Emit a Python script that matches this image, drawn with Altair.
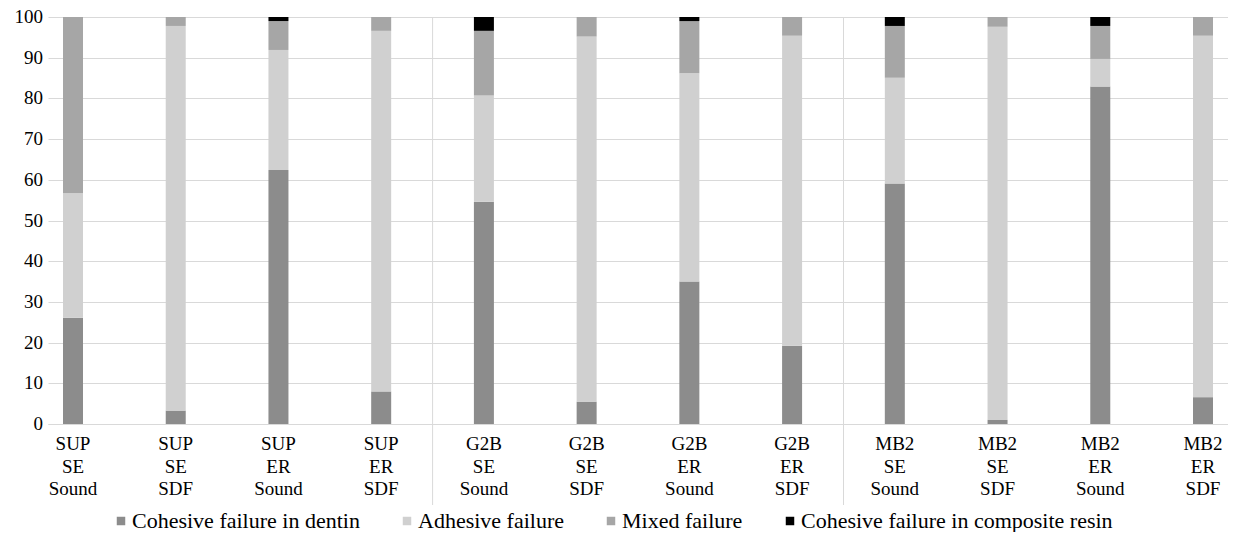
import altair as alt
import pandas as pd

categories = [
    "SUP SE Sound", "SUP SE SDF", "SUP ER Sound", "SUP ER SDF",
    "G2B SE Sound", "G2B SE SDF", "G2B ER Sound", "G2B ER SDF",
    "MB2 SE Sound", "MB2 SE SDF", "MB2 ER Sound", "MB2 ER SDF",
]
series = [
    "Cohesive failure in dentin",
    "Adhesive failure",
    "Mixed failure",
    "Cohesive failure in composite resin",
]
dentin = [26.1, 3.3, 62.4, 8.0, 54.6, 5.5, 35.0, 19.2, 59.1, 1.0, 82.9, 6.6]
adhesive = [30.6, 94.5, 29.5, 88.6, 26.1, 89.7, 51.2, 76.2, 26.0, 96.6, 6.8, 88.8]
mixed = [43.3, 2.2, 7.1, 3.4, 15.9, 4.8, 12.8, 4.6, 12.7, 2.4, 8.1, 4.6]
composite = [0.0, 0.0, 1.0, 0.0, 3.4, 0.0, 1.0, 0.0, 2.2, 0.0, 2.2, 0.0]
y_ticks = [0, 10, 20, 30, 40, 50, 60, 70, 80, 90, 100]
group_ends = ["SUP ER SDF", "G2B ER SDF"]

colors = ["#8c8c8c", "#d0d0d0", "#a6a6a6", "#000000"]
FONT = "Liberation Serif"

rows = []
for i, c in enumerate(categories):
    for j, vals in enumerate([dentin, adhesive, mixed, composite]):
        rows.append({"cat": c, "series": series[j], "value": vals[i], "ord": j})
df = pd.DataFrame(rows)
sep_df = pd.DataFrame({"cat": group_ends})
cat_df = pd.DataFrame({"cat": categories})
ytick_df = pd.DataFrame({"v": y_ticks})

xscale = alt.Scale(paddingInner=0.8053, paddingOuter=0.146)
yscale = alt.Scale(domain=[0, 100], nice=False)

bars = alt.Chart(df).mark_bar().encode(
    x=alt.X(
        "cat:N",
        sort=categories,
        scale=xscale,
        axis=alt.Axis(
            title=None,
            labels=False,
            ticks=False,
            domainColor="#d9d9d9",
            domainWidth=1,
        ),
    ),
    y=alt.Y(
        "value:Q",
        stack="zero",
        scale=yscale,
        axis=alt.Axis(
            title=None,
            values=y_ticks,
            domain=False,
            ticks=False,
            labels=False,
            gridColor="#d9d9d9",
        ),
    ),
    color=alt.Color(
        "series:N",
        scale=alt.Scale(domain=series, range=colors),
        legend=alt.Legend(
            orient="none",
            direction="horizontal",
            legendX=62,
            legendY=493,
            title=None,
            symbolType="square",
            symbolSize=72,
            symbolStrokeWidth=0,
            labelFont=FONT,
            labelFontSize=22,
            labelColor="black",
            labelOffset=0,
            labelLimit=500,
            columnPadding=36,
        ),
    ),
    order=alt.Order("ord:Q", sort="ascending"),
)

# category labels (three lines) placed with the x scale
xlabels = alt.Chart(cat_df).mark_text(
    font=FONT, fontSize=19, lineHeight=22.5, lineBreak=" ",
    baseline="top", align="center", color="black",
).encode(
    x=alt.X("cat:N", sort=categories),
    y=alt.value(418),
    text="cat:N",
)

# y tick labels placed with the y scale
ylabels = alt.Chart(ytick_df).mark_text(
    font=FONT, fontSize=19, align="right", baseline="middle", color="black", dx=-5
).encode(
    x=alt.value(0),
    y=alt.Y("v:Q", scale=yscale),
    text="v:Q",
)

seps = alt.Chart(sep_df).mark_rule(color="#d9d9d9", strokeWidth=1, xOffset=51.4).encode(
    x=alt.X("cat:N", sort=categories),
    y=alt.value(0),
    y2=alt.value(488),
)

chart = (
    alt.layer(seps, bars, xlabels, ylabels)
    .properties(
        width=1180,
        height=407,
        padding={"left": 40, "top": 9, "right": 0, "bottom": 108},
        autosize="none",
    )
    .configure(font=FONT, background="white", style={"guide-label": {"font": FONT}})
    .configure_view(stroke=None)
)

chart.save("out.html", embed_options={"renderer": "svg", "actions": False})
